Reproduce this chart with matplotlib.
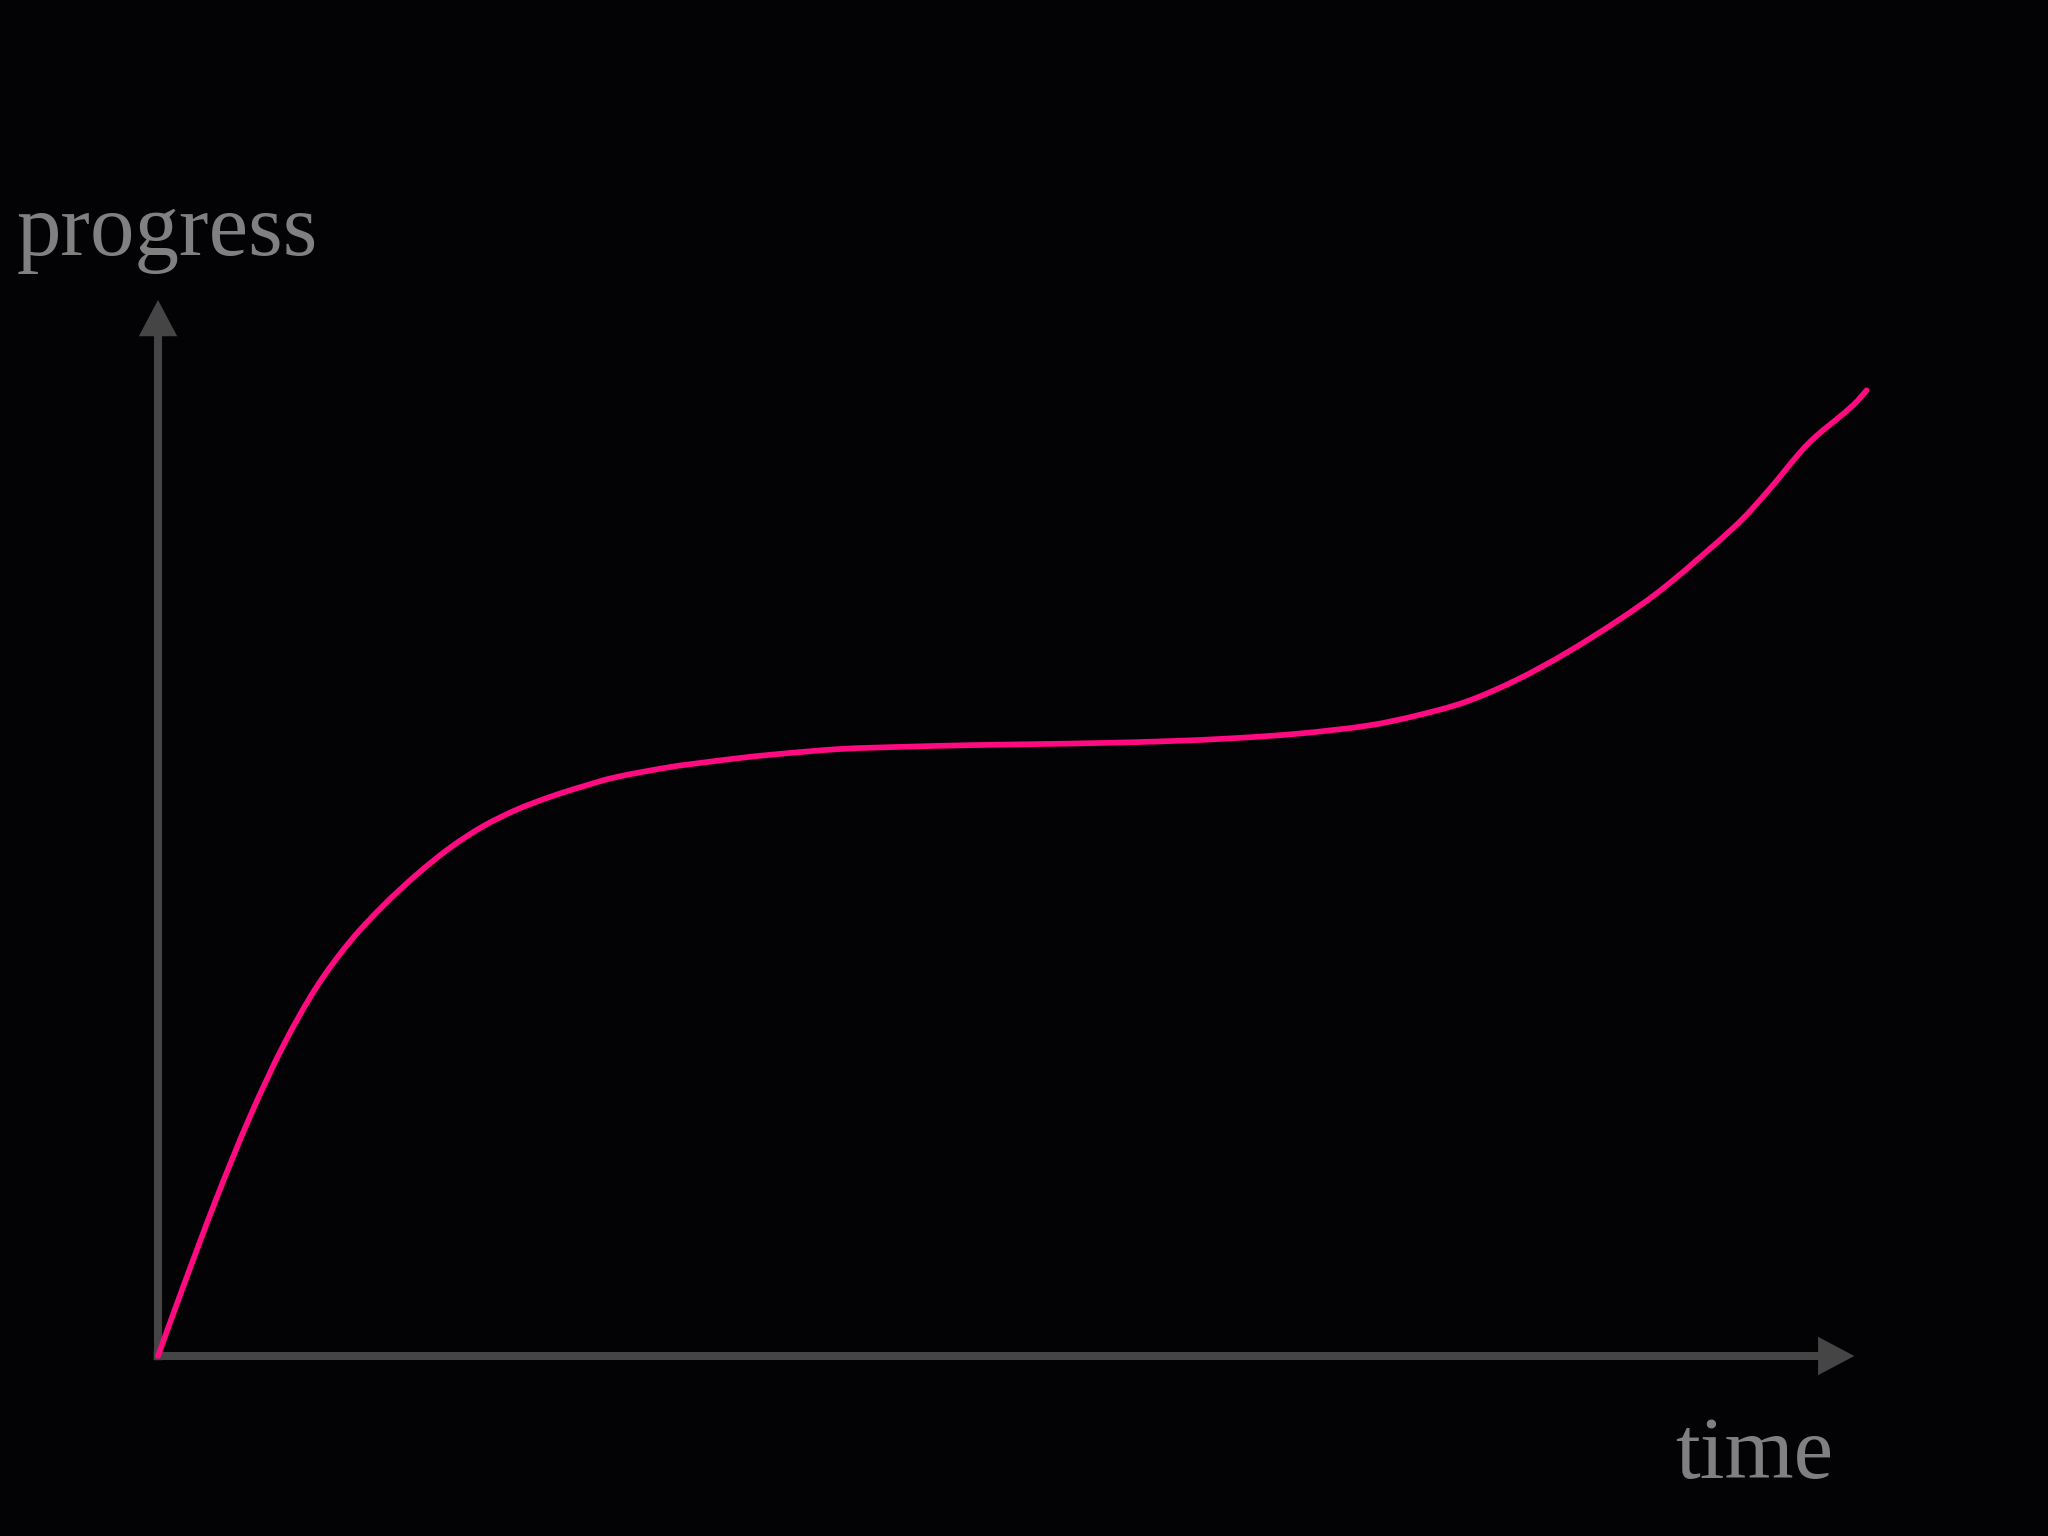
import matplotlib
matplotlib.use("Agg")
import matplotlib.pyplot as plt
from matplotlib.path import Path
from matplotlib.patches import PathPatch

# progress curve (time 0-100, progress 0-100)
time = [0, 1.48, 3.43, 5.38, 7.33, 9.28, 11.23, 13.18, 15.13, 17.08, 19.02,
        20.98, 22.92, 24.87, 26.82, 29.94, 32.09, 34.04, 35.98, 39.88, 43.78,
        47.68, 51.58, 55.09, 58.99, 62.88, 66.78, 70.68, 73.61, 76.53, 79.46,
        82.38, 85.50, 88.23, 92.12, 94.07, 96.02, 97.00, 97.97, 99.14, 99.92]
progress = [0, 6.59, 14.97, 22.67, 29.40, 34.96, 39.25, 42.66, 45.59, 48.13,
            50.17, 51.74, 52.94, 53.95, 54.83, 55.77, 56.24, 56.63, 56.96,
            57.48, 57.70, 57.85, 57.95, 58.05, 58.22, 58.50, 58.95, 59.68,
            60.65, 61.98, 64.03, 66.60, 69.78, 72.97, 78.42, 81.77, 85.55,
            87.15, 88.45, 90.05, 91.45]

x_label = "time"
y_label = "progress"

bg = "#030205"
axis_col = "#454545"
text_col = "#808080"


def smooth_path(xs, ys):
    # Catmull-Rom through the read points, drawn as cubic Bezier segments
    pts = list(zip(xs, ys))
    verts = [pts[0]]
    codes = [Path.MOVETO]
    n = len(pts)
    for i in range(n - 1):
        p0 = pts[max(i - 1, 0)]
        p1 = pts[i]
        p2 = pts[i + 1]
        p3 = pts[min(i + 2, n - 1)]
        c1 = (p1[0] + (p2[0] - p0[0]) / 6, p1[1] + (p2[1] - p0[1]) / 6)
        c2 = (p2[0] - (p3[0] - p1[0]) / 6, p2[1] - (p3[1] - p1[1]) / 6)
        verts += [c1, c2, p2]
        codes += [Path.CURVE4] * 3
    return Path(verts, codes)


fig = plt.figure(figsize=(20.48, 15.36), dpi=100, facecolor=bg)
ax = fig.add_axes([158 / 2048, 180 / 1536, 1710 / 2048, 1056 / 1536])
ax.set_facecolor(bg)
ax.set_xlim(0, 100)
ax.set_ylim(0, 100)
ax.axis("off")

arrow = dict(arrowstyle="-|>,head_length=0.85,head_width=0.45",
             color=axis_col, lw=5.8, mutation_scale=20,
             shrinkA=0, shrinkB=0, joinstyle="miter", capstyle="butt")
ax.annotate("", xy=(99.2, 0), xytext=(-0.25, 0), arrowprops=arrow,
            annotation_clip=False)
ax.annotate("", xy=(0, 100), xytext=(0, -0.4), arrowprops=arrow,
            annotation_clip=False)

curve = PathPatch(smooth_path(time, progress), fill=False, edgecolor="#ff0a80",
                  lw=4.1, capstyle="round", joinstyle="round", clip_on=False,
                  zorder=3)
ax.add_patch(curve)

fig.text(17 / 2048, (1536 - 255) / 1536, y_label, family="Liberation Serif",
         fontsize=64, color=text_col, ha="left", va="baseline")
fig.text(1675 / 2048, (1536 - 1478) / 1536, x_label, family="Liberation Serif",
         fontsize=64, color=text_col, ha="left", va="baseline")

fig.savefig("out.png", dpi=100, facecolor=bg)
